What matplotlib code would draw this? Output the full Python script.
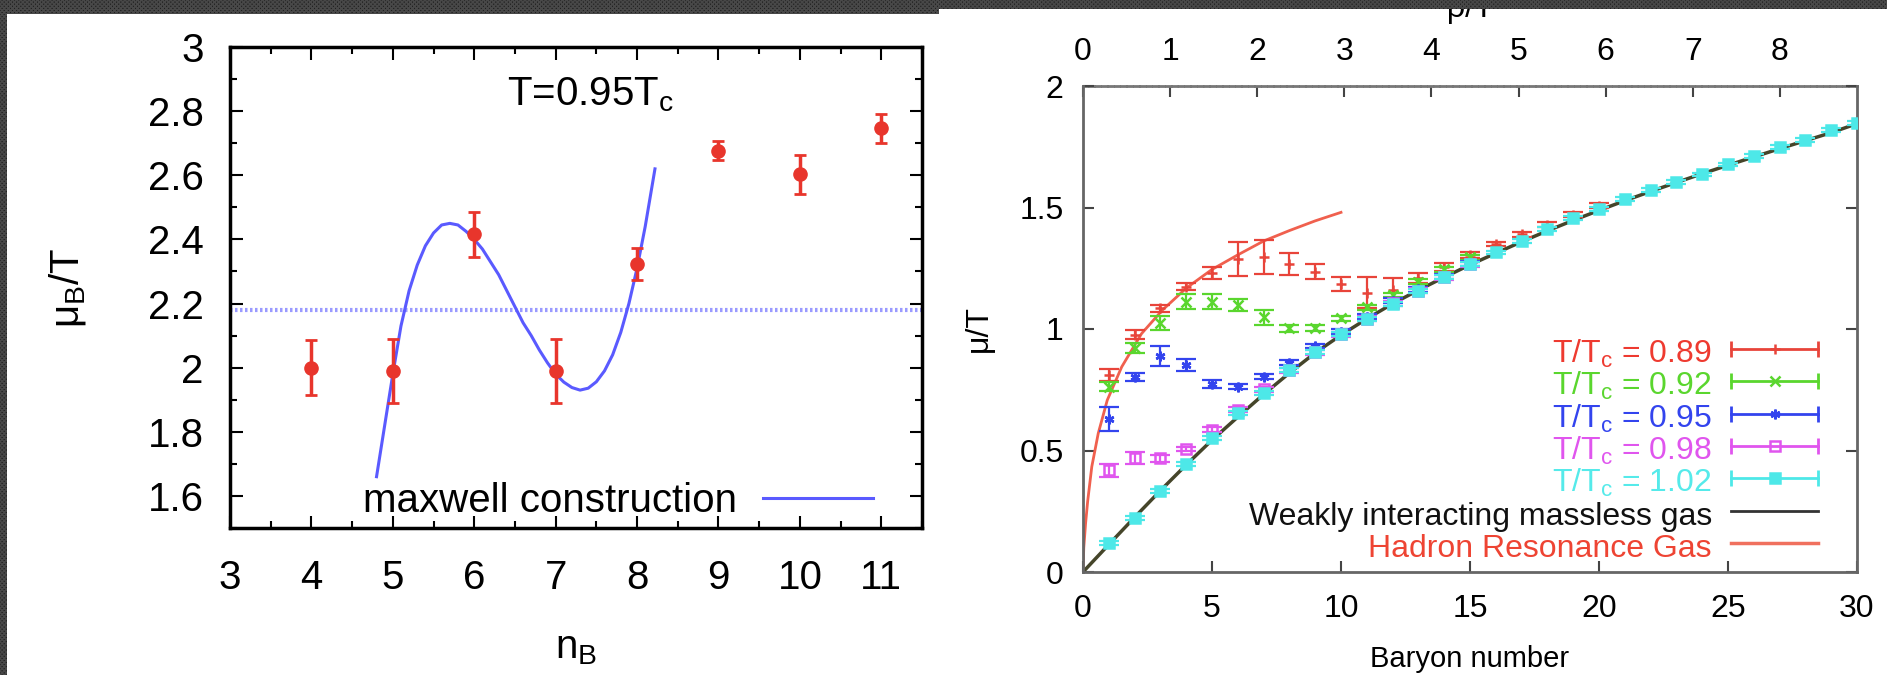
from matplotlib import pyplot as plt
from matplotlib.patches import Rectangle
from matplotlib.lines import Line2D
from matplotlib.legend_handler import HandlerLine2D, HandlerTuple
from matplotlib.ticker import FormatStrFormatter, MultipleLocator
import numpy as np

plt.rcParams['font.family'] = ['Liberation Sans', 'DejaVu Sans']
plt.rcParams['mathtext.fontset'] = 'custom'
plt.rcParams['mathtext.rm'] = 'Liberation Sans'
plt.rcParams['mathtext.it'] = 'Liberation Sans'
plt.rcParams['mathtext.default'] = 'regular'
plt.rcParams['hatch.linewidth'] = 1.2

# left panel: mu_B/T against n_B at T = 0.95 Tc
n_b = [4, 5, 6, 7, 8, 9, 10, 11]
mu_b = [2.00, 1.99, 2.416, 1.99, 2.324, 2.677, 2.603, 2.747]
mu_b_err = [0.085, 0.10, 0.07, 0.10, 0.05, 0.03, 0.06, 0.045]

maxwell_x = [4.80, 4.90, 5.00, 5.10, 5.20, 5.30, 5.40, 5.50, 5.60, 5.70, 5.80, 5.90,
             6.00, 6.10, 6.20, 6.30, 6.40, 6.50, 6.60, 6.70, 6.80, 6.90, 7.00, 7.10,
             7.20, 7.30, 7.40, 7.50, 7.60, 7.70, 7.80, 7.90, 8.00, 8.10, 8.22]
maxwell_y = [1.66, 1.82, 1.98, 2.13, 2.24, 2.32, 2.38, 2.42, 2.445, 2.45, 2.445, 2.425,
             2.40, 2.37, 2.33, 2.29, 2.24, 2.19, 2.14, 2.10, 2.055, 2.015, 1.98, 1.955,
             1.938, 1.93, 1.936, 1.956, 1.99, 2.04, 2.11, 2.20, 2.31, 2.44, 2.62]
maxwell_level = 2.18

# right panel: mu/T against baryon number
temps = ['0.89', '0.92', '0.95', '0.98', '1.02']
red_y = [0.81, 0.977, 1.085, 1.174, 1.229, 1.29, 1.297, 1.267, 1.236, 1.185,
         1.15, 1.16, 1.21, 1.255, 1.305, 1.35, 1.39, 1.43, 1.47, 1.508]
red_err = [0.025, 0.02, 0.015, 0.015, 0.025, 0.07, 0.07, 0.045, 0.03, 0.03,
           0.065, 0.05, 0.02, 0.015, 0.012, 0.01, 0.01, 0.01, 0.01, 0.01]
green_y = [0.763, 0.922, 1.025, 1.112, 1.112, 1.099, 1.048, 1.003, 1.005, 1.044,
           1.089, 1.14, 1.195, 1.245, 1.295]
green_err = [0.02, 0.02, 0.03, 0.03, 0.03, 0.025, 0.03, 0.015, 0.012, 0.01,
             0.01, 0.01, 0.01, 0.01, 0.01]
blue_y = [0.63, 0.803, 0.889, 0.852, 0.774, 0.763, 0.803, 0.862, 0.93, 0.989,
          1.051, 1.117, 1.163, 1.215, 1.27]
blue_err = [0.048, 0.015, 0.04, 0.025, 0.015, 0.01, 0.01, 0.01, 0.01, 0.01,
            0.01, 0.01, 0.01, 0.01, 0.01]
magenta_y = [0.418, 0.47, 0.468, 0.506, 0.586, 0.668, 0.752, 0.83, 0.905, 0.978,
             1.043, 1.105, 1.158, 1.213, 1.267]
magenta_err = [0.025, 0.025, 0.015, 0.01, 0.01, 0.01, 0.01, 0.01, 0.01, 0.01,
               0.01, 0.01, 0.01, 0.01, 0.01]
cyan_y = [0.12, 0.221, 0.335, 0.444, 0.55, 0.653, 0.736, 0.83, 0.904, 0.98,
          1.041, 1.103, 1.156, 1.213, 1.267, 1.315, 1.363, 1.412, 1.456, 1.495,
          1.536, 1.571, 1.606, 1.636, 1.677, 1.712, 1.748, 1.778, 1.818, 1.848]
cyan_err = [0.008] * 30

gas_n = list(range(31))
gas_y = [0, 0.113, 0.225, 0.335, 0.441, 0.543, 0.638, 0.731, 0.819, 0.902, 0.975,
         1.042, 1.104, 1.16, 1.213, 1.264, 1.312, 1.359, 1.404, 1.447, 1.488,
         1.528, 1.566, 1.603, 1.639, 1.674, 1.708, 1.742, 1.775, 1.808, 1.845]
hrg_n = [0, 0.03, 0.1, 0.18, 0.34, 0.59, 0.94, 1.5, 2.27, 3.07, 4, 5, 6, 7, 8, 9, 10]
hrg_y = [0, 0.1, 0.2, 0.29, 0.433, 0.57, 0.707, 0.844, 0.981, 1.077, 1.168, 1.245,
         1.305, 1.362, 1.405, 1.445, 1.48]
top_scale = 8.885 / 30

W, H = 1887, 675


def box(x0, y0, x1, y1):
    return [x0 / W, 1 - y1 / H, (x1 - x0) / W, (y1 - y0) / H]


fig = plt.figure(figsize=(W / 100, H / 100), dpi=100)
fig.patch.set_facecolor('#1d1d1d')
fig.add_artist(Rectangle((0, 0), 1, 1, transform=fig.transFigure, facecolor='#1d1d1d',
                         edgecolor='#484848', hatch='xxxxxxxx', lw=0, zorder=-3))
fig.add_artist(Rectangle((7 / W, 0), (939 - 7) / W, (H - 14) / H, transform=fig.transFigure,
                         facecolor='white', lw=0, zorder=-1))
fig.add_artist(Rectangle((939 / W, 0), (W - 939) / W, (H - 9) / H, transform=fig.transFigure,
                         facecolor='white', lw=0, zorder=-1))

# ---------- left panel ----------
ax1 = fig.add_axes(box(230, 47, 922, 528))
ax1.axhline(maxwell_level, color='#9a9aff', lw=3, ls=(0, (0.6, 0.6)), zorder=1)
maxwell_line, = ax1.plot(maxwell_x, maxwell_y, color='#5a5aff', lw=2.2, zorder=2)
ax1.errorbar(n_b, mu_b, yerr=mu_b_err, fmt='o', color='#e8352c', ms=9.5,
             elinewidth=2.5, capsize=4, capthick=2, zorder=3)
ax1.text(7.43, 2.85, 'T=0.95T$_c$', ha='center', va='center', fontsize=29)

ax1.set_xlim(3, 11.5)
ax1.set_ylim(1.5, 3.0)
ax1.set_xticks(range(3, 12))
ax1.set_yticks(np.arange(1.6, 3.01, 0.2))
ax1.yaxis.set_major_formatter(FormatStrFormatter('%g'))
ax1.xaxis.set_minor_locator(MultipleLocator(0.5))
ax1.yaxis.set_minor_locator(MultipleLocator(0.1))
ax1.tick_params(which='both', direction='in', top=True, right=True, width=1.5)
ax1.tick_params(which='major', length=9, labelsize=29)
ax1.tick_params(which='minor', length=5)
ax1.tick_params(axis='x', pad=22)
ax1.tick_params(axis='y', pad=19)
for spine in ax1.spines.values():
    spine.set_linewidth(2.5)
ax1.set_xlabel('n$_B$', fontsize=29)
ax1.set_ylabel('μ$_B$/T', fontsize=29)
ax1.xaxis.set_label_coords(0.5, -0.21)
ax1.yaxis.set_label_coords(-0.205, 0.5)
ax1.legend([maxwell_line], ['maxwell construction'], loc='center right',
           bbox_to_anchor=(0.929, 0.056), frameon=False, markerfirst=False,
           handlelength=2.73, handletextpad=0.65, borderpad=0, borderaxespad=0,
           fontsize=29)

# ---------- right panel ----------
ax2 = fig.add_axes(box(1083, 86, 1857, 572))
colors = ['#e8443a', '#5ad62e', '#3344ee', '#e055ee', '#4de8e8']
markers = ['+', 'x', (6, 2, 0), 's', 's']
faces = ['#e8443a', '#5ad62e', '#3344ee', 'none', '#4de8e8']
series = [red_y, green_y, blue_y, magenta_y, cyan_y]
errors = [red_err, green_err, blue_err, magenta_err, cyan_err]

ax2.plot(hrg_n, hrg_y, color='#f0604e', lw=2, zorder=2)
ax2.plot(gas_n, gas_y, color='#45452a', lw=2.5, zorder=2)

handles = []
handler_map = {}
for color, marker, face, values, err in zip(colors, markers, faces, series, errors):
    n = np.arange(1, len(values) + 1)
    ax2.errorbar(n, values, yerr=err, fmt='none', ecolor=color, elinewidth=1.6,
                 capsize=7, capthick=1.6, zorder=3)
    ax2.plot(n, values, ls='none', marker=marker, color=color, mfc=face, ms=7,
             mew=1.8, zorder=3)
    caps = Line2D([], [], color=color, lw=2, marker='|', ms=12, mew=2)
    mark = Line2D([], [], color=color, ls='none', marker=marker, mfc=face, ms=7, mew=1.8)
    handler_map[caps] = HandlerLine2D(numpoints=2, marker_pad=0)
    handler_map[mark] = HandlerLine2D(numpoints=1)
    handles.append((caps, mark))
handles.append(Line2D([], [], color='#333333', lw=2))
handles.append(Line2D([], [], color='#f0705e', lw=2.5))
handler_map[tuple] = HandlerTuple(ndivide=1, pad=0)
labels = ['T/T$_c$ = ' + t for t in temps] + ['Weakly interacting massless gas',
                                              'Hadron Resonance Gas']
label_colors = ['#ee3a30', '#5ad62e', '#3344ee', '#e055ee', '#55eaea', '#111111', '#ee4433']
ax2.legend(handles, labels, handler_map=handler_map, loc='upper right',
           bbox_to_anchor=(0.9496, 0.488), frameon=False, markerfirst=False,
           handlelength=2.72, handleheight=1.3, handletextpad=0.6, labelspacing=-0.09,
           borderpad=0, borderaxespad=0, fontsize=23, labelcolor=label_colors)

ax2.set_xlim(0, 30)
ax2.set_ylim(0, 2)
ax2.set_xticks(range(0, 31, 5))
ax2.set_yticks([0, 0.5, 1, 1.5, 2])
ax2.yaxis.set_major_formatter(FormatStrFormatter('%g'))
ax2.tick_params(direction='in', length=8, width=1.5, right=True, top=False,
                labelsize=23, color='#444444')
ax2.tick_params(axis='x', pad=16)
ax2.tick_params(axis='y', pad=14)
for spine in ax2.spines.values():
    spine.set_linewidth(2)
    spine.set_color('#666666')
ax2.spines['top'].set_visible(False)
ax2.set_xlabel('Baryon number', fontsize=21)
ax2.set_ylabel('μ/T', fontsize=23)
ax2.xaxis.set_label_coords(0.5, -0.15)
ax2.yaxis.set_label_coords(-0.115, 0.5)

top = ax2.secondary_xaxis('top', functions=(lambda x: x * top_scale, lambda x: x / top_scale))
top.set_xticks(range(0, 9))
top.tick_params(direction='in', length=8, width=1.5, labelsize=23, pad=14, color='#444444')
top.spines['top'].set_linewidth(2)
top.spines['top'].set_color('#777777')
top.spines['top'].set_linestyle((0, (1.5, 0.8)))

fig.text(1470 / W, 1 - 17 / H, 'ρ/T', ha='center', va='baseline', fontsize=23, zorder=4)
fig.add_artist(Rectangle((939 / W, 1 - 9 / H), (W - 939) / W, 9 / H, transform=fig.transFigure,
                         facecolor='#1d1d1d', edgecolor='#484848', hatch='xxxxxxxx', lw=0,
                         zorder=5))

fig.savefig('out.png', dpi=100)
